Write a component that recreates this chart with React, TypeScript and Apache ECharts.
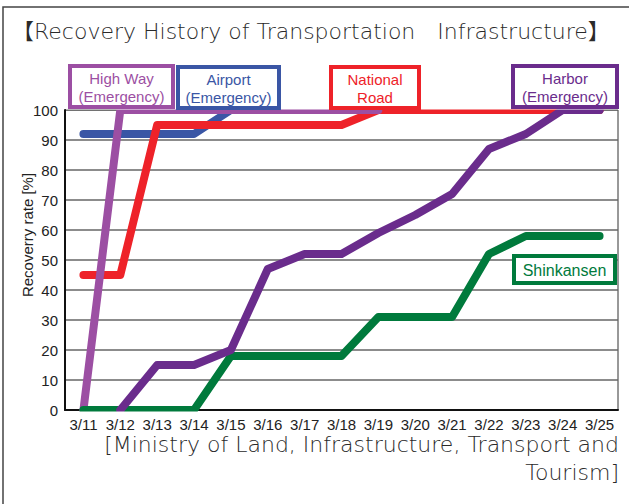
import React, { useEffect, useRef } from "react";
import * as echarts from "echarts";

const categories = ["3/11", "3/12", "3/13", "3/14", "3/15", "3/16", "3/17", "3/18", "3/19", "3/20", "3/21", "3/22", "3/23", "3/24", "3/25"];
const highWay = [0, 100, 100, 100, 100, 100, 100, 100, 100, null, null, null, null, null, null];
const airport = [92, 92, 92, 92, 100, 100, 100, 100, 100, 100, 100, 100, 100, 100, 100];
const nationalRoad = [45, 45, 95, 95, 95, 95, 95, 95, 100, 100, 100, 100, 100, 100, 100];
const harbor = [null, 0, 15, 15, 20, 47, 52, 52, 59, 65, 72, 87, 92, 100, 100];
const shinkansen = [0, 0, 0, 0, 18, 18, 18, 18, 31, 31, 31, 52, 58, 58, 58];

const C_HIGH = "#9c4fa3";
const C_AIR = "#3a56a5";
const C_NAT = "#ee2229";
const C_HAR = "#6a2c8c";
const C_SHIN = "#007a3c";

const GOTHIC = "200 22px 'DejaVu Sans', 'Noto Sans CJK JP', sans-serif";
const ARIAL = "'Liberation Sans', Arial, sans-serif";

function box(x: number, y: number, w: number, h: number, color: string, text: string, size: number) {
  return [
    { type: "rect", z: 20, shape: { x, y, width: w, height: h }, style: { fill: "#fff", stroke: color, lineWidth: 4 } },
    {
      type: "text",
      z: 21,
      x: x + w / 2,
      y: y + h / 2 + 0.5,
      style: {
        text,
        fill: color,
        font: `${size}px ${ARIAL}`,
        align: "center",
        verticalAlign: "middle",
        lineHeight: 18,
      },
    },
  ];
}

export default function App() {
  const ref = useRef<HTMLDivElement>(null);
  useEffect(() => {
    if (!ref.current) return;
    const chart = echarts.init(ref.current, null, { renderer: "svg" });
    const line = (name: string, data: any[], color: string) => ({
      name,
      type: "line",
      data,
      symbol: "none",
      clip: true,
      z: 2,
      lineStyle: { color, width: 8, cap: "round", join: "round" },
      itemStyle: { color },
    });
    chart.setOption({
      animation: false,
      backgroundColor: "#fff",
      grid: { left: 65, right: 11, top: 110, bottom: 94, show: true, borderColor: "#333", borderWidth: 1, backgroundColor: "transparent" },
      xAxis: {
        type: "category",
        data: categories,
        boundaryGap: true,
        axisLine: { lineStyle: { color: "#111", width: 2 } },
        axisTick: { show: false },
        axisLabel: { color: "#222", fontSize: 15, fontFamily: ARIAL, margin: 7, interval: 0 },
      },
      yAxis: {
        type: "value",
        min: 0,
        max: 100,
        interval: 10,
        axisLine: { show: true, lineStyle: { color: "#111", width: 2 } },
        axisTick: { show: false },
        axisLabel: { color: "#222", fontSize: 15, fontFamily: ARIAL, margin: 7 },
        splitLine: { lineStyle: { color: "#666", width: 1.5 } },
      },
      series: [
        line("Airport (Emergency)", airport, C_AIR),
        line("National Road", nationalRoad, C_NAT),
        line("High Way (Emergency)", highWay, C_HIGH),
        line("Shinkansen", shinkansen, C_SHIN),
        line("Harbor (Emergency)", harbor, C_HAR),
      ],
      graphic: [
        { type: "rect", z: 5, shape: { x: 66, y: 98, width: 553, height: 11.5 }, style: { fill: "#fff" }, silent: true },
        { type: "rect", z: 5, shape: { x: 66, y: 411.5, width: 553, height: 4.5 }, style: { fill: "#fff" }, silent: true },
        { type: "rect", z: 5, shape: { x: 3, y: 7, width: 660, height: 520 }, style: { fill: "none", stroke: "#444", lineWidth: 1.5 }, silent: true },
        {
          type: "text",
          z: 5,
          x: 12,
          y: 31,
          style: {
            text: "【Recovery History of Transportation\u3000Infrastructure】",
            fill: "#2a2a2a",
            font: GOTHIC,
            verticalAlign: "middle",
          },
        },
        {
          type: "text",
          z: 5,
          x: 27,
          y: 235,
          rotation: Math.PI / 2,
          style: {
            text: "Recoverry rate [%]",
            fill: "#222",
            font: `15px ${ARIAL}`,
            align: "center",
            verticalAlign: "middle",
          },
        },
        ...box(70, 66, 103, 41, C_HIGH, "High Way\n(Emergency)", 15),
        ...box(178, 67, 101, 41, C_AIR, "Airport\n(Emergency)", 15),
        ...box(331, 67, 88, 41, C_NAT, "National\nRoad", 15),
        ...box(513, 66, 104, 41, C_HAR, "Harbor\n(Emergency)", 15),
        ...box(514, 256, 101, 27, C_SHIN, "Shinkansen", 16),
        {
          type: "text",
          z: 5,
          x: 619,
          y: 458,
          style: {
            text: "[Ministry of Land, Infrastructure, Transport and\nTourism]",
            fill: "#2a2a2a",
            font: GOTHIC,
            align: "right",
            verticalAlign: "middle",
            lineHeight: 28,
          },
        },
      ],
    });
    return () => chart.dispose();
  }, []);
  return <div ref={ref} style={{ position: "fixed", left: 0, top: 0, width: 629, height: 504, background: "#fff" }} />;
}
